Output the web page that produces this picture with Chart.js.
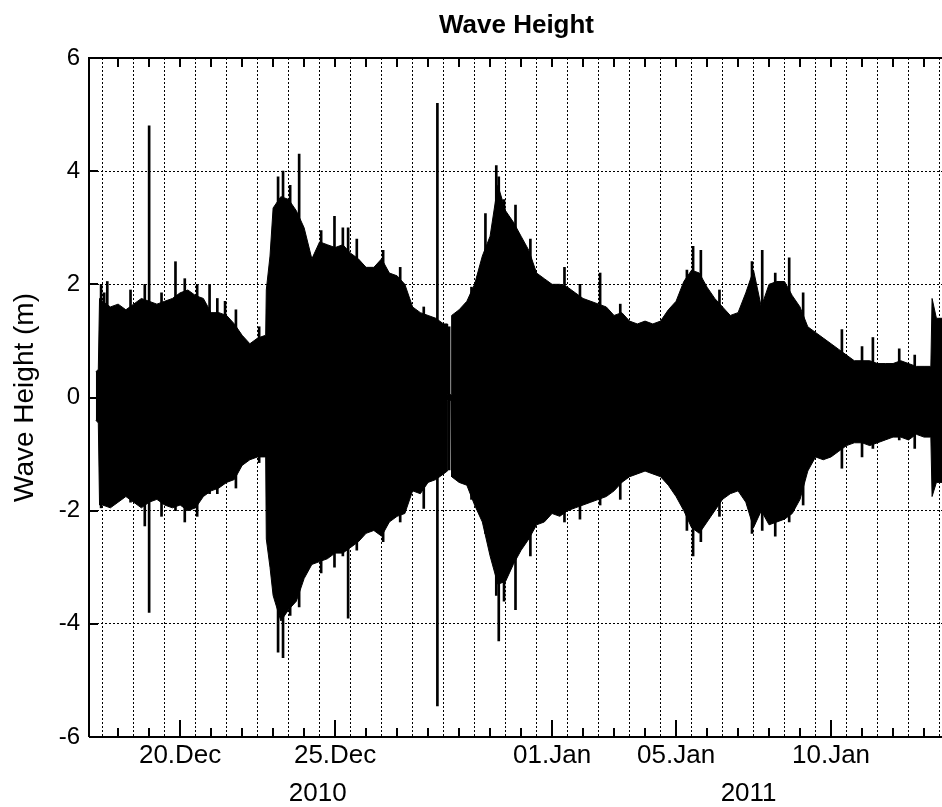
<!DOCTYPE html>
<html>
<head>
<meta charset="utf-8">
<title>Wave Height</title>
<script src="https://cdn.jsdelivr.net/npm/chart.js@4.4.1/dist/chart.umd.min.js"></script>
<style>
  body { margin: 0; background: #fff; }
  canvas { display: block; }
</style>
</head>
<body>
<canvas id="waveChart" width="942" height="807"></canvas>
<script>
// x values are days counted from 20 Dec 2010 00:00

// envelope of the record (upper / lower excursion, m)
var envDays = [-2.72, -2.64, -2.6, -2.5, -2.25, -2.0, -1.75, -1.5, -1.25, -1.0, -0.75, -0.5, -0.25,
    0, 0.25, 0.5, 0.75, 1.0, 1.25, 1.5, 1.75, 2.0, 2.25, 2.5, 2.76, 2.78, 2.9,
    3.0, 3.25, 3.5, 3.75, 4.0, 4.25, 4.5, 4.75, 5.0, 5.25, 5.5, 5.75,
    6.0, 6.25, 6.5, 6.75, 7.0, 7.25, 7.5, 7.75, 8.0, 8.25, 8.5, 8.62, 8.63, 8.74, 8.76,
    9.0, 9.25, 9.5, 9.75, 10.0, 10.25, 10.5, 10.75, 11.0, 11.25, 11.5, 11.75,
    12.0, 12.25, 12.5, 12.75, 13.0, 13.25, 13.5, 13.75, 14.0, 14.25, 14.5, 14.75,
    15.0, 15.25, 15.5, 15.75, 16.0, 16.25, 16.5, 16.75, 17.0, 17.25, 17.5, 17.75,
    18.0, 18.25, 18.5, 18.75, 19.0, 19.25, 19.5, 19.75, 20.0, 20.25, 20.5, 20.75,
    21.0, 21.25, 21.5, 21.75, 22.0, 22.25, 22.5, 22.75, 23.0, 23.25, 23.5, 23.75,
    24.0, 24.22, 24.26, 24.4, 24.6];
var envHigh = [0.45, 0.5, 1.75, 1.7, 1.6, 1.65, 1.55, 1.65, 1.75, 1.7, 1.65, 1.7, 1.75,
    1.85, 1.9, 1.8, 1.75, 1.5, 1.5, 1.45, 1.3, 1.1, 0.95, 1.05, 1.1, 1.9, 2.5,
    3.35, 3.55, 3.5, 3.3, 3.0, 2.45, 2.75, 2.7, 2.65, 2.7, 2.55, 2.45,
    2.3, 2.3, 2.45, 2.2, 2.15, 2.0, 1.6, 1.5, 1.45, 1.4, 1.3, 1.3, 0.05, 0.05, 1.45,
    1.55, 1.7, 2.0, 2.5, 2.85, 3.75, 3.3, 3.1, 2.85, 2.6, 2.2, 2.1,
    2.0, 2.0, 1.95, 1.85, 1.75, 1.7, 1.65, 1.6, 1.45, 1.5, 1.35, 1.3,
    1.35, 1.3, 1.35, 1.55, 1.7, 2.05, 2.25, 2.2, 1.95, 1.75, 1.6, 1.45,
    1.5, 1.85, 2.25, 1.6, 2.0, 2.05, 2.05, 1.8, 1.6, 1.25, 1.15, 1.05,
    0.95, 0.85, 0.75, 0.65, 0.65, 0.65, 0.6, 0.6, 0.6, 0.65, 0.6, 0.55,
    0.55, 0.55, 1.75, 1.4, 1.4];
var envLow = [-0.4, -0.45, -1.9, -1.9, -1.95, -1.85, -1.75, -1.85, -1.95, -1.85, -1.8, -1.9, -1.95,
    -1.9, -2.0, -1.95, -1.75, -1.65, -1.6, -1.5, -1.45, -1.2, -1.1, -1.05, -1.05, -2.5, -3.0,
    -3.5, -3.95, -3.75, -3.6, -3.2, -2.95, -2.9, -2.85, -2.75, -2.75, -2.65, -2.55,
    -2.4, -2.35, -2.45, -2.2, -2.1, -2.05, -1.65, -1.7, -1.5, -1.45, -1.35, -1.3, -0.05, -0.05, -1.4,
    -1.5, -1.55, -1.9, -2.2, -2.8, -3.3, -3.25, -2.95, -2.7, -2.5, -2.25, -2.2,
    -2.05, -2.1, -2.0, -1.95, -1.9, -1.85, -1.8, -1.75, -1.65, -1.5, -1.4, -1.35,
    -1.3, -1.35, -1.4, -1.55, -1.75, -2.0, -2.3, -2.4, -2.2, -2.0, -1.8, -1.7,
    -1.65, -1.85, -2.3, -2.0, -2.25, -2.2, -2.15, -2.05, -1.8, -1.3, -1.05, -1.1,
    -1.05, -0.95, -0.85, -0.8, -0.8, -0.85, -0.8, -0.75, -0.7, -0.7, -0.75, -0.65,
    -0.7, -0.7, -1.75, -1.5, -1.5];

// single large waves standing out of the envelope
var spikeDays = [-2.55, -2.45, -2.35, -1.6, -1.14, -1.0, -0.6, -0.15, 0.15, 0.55, 0.95, 1.2,
    1.45, 1.8, 2.55, 3.16, 3.32, 3.55, 3.84, 4.55, 4.98, 5.25, 5.42, 5.7,
    6.55, 7.1, 7.86, 8.3, 8.68, 9.4, 9.85, 10.2, 10.28, 10.45, 10.82, 11.3,
    12.4, 12.9, 13.55, 14.2, 16.35, 16.55, 16.8, 17.4, 18.45, 18.78, 19.2, 19.65,
    20.1, 21.35, 22.0, 22.35, 23.2, 23.7];
var spikeHigh = [2.0, 1.85, 2.05, 1.9, 2.0, 4.8, 1.85, 2.4, 2.1, 2.0, 2.0, 1.75,
    1.7, 1.55, 1.25, 3.9, 4.0, 3.75, 4.3, 2.95, 3.2, 3.0, 3.0, 2.8,
    2.6, 2.3, 1.6, 5.2, 1.25, 1.95, 3.25, 4.1, 3.9, 3.5, 3.4, 2.8,
    2.3, 2.0, 2.2, 1.65, 2.25, 2.67, 2.6, 1.9, 2.4, 2.6, 2.2, 2.47,
    1.85, 1.2, 0.9, 1.06, 0.86, 0.75];
var spikeLow = [-1.95, -1.9, -1.9, -1.85, -2.27, -3.8, -2.1, -2.0, -2.2, -2.1, -1.7, -1.7,
    -1.5, -1.6, -1.15, -4.5, -4.6, -3.85, -3.7, -3.1, -3.0, -2.8, -3.9, -2.7,
    -2.55, -2.2, -1.96, -5.45, -1.28, -1.8, -2.4, -3.5, -4.3, -3.6, -3.75, -2.8,
    -2.2, -2.15, -1.9, -1.8, -2.35, -2.8, -2.55, -2.1, -2.4, -2.35, -2.45, -2.2,
    -1.9, -1.25, -1.05, -0.9, -0.75, -0.9];

var tickDays = [0, 5, 12, 16, 21];
var tickLabels = ['20.Dec', '25.Dec', '01.Jan', '05.Jan', '10.Jan'];
var yearDays = [4.44, 18.34];
var yearLabels = ['2010', '2011'];

var dayMin = -2.94;
var dayMax = 24.58;

var upperPts = envDays.map(function(d, i) { return {x: d, y: envHigh[i]}; });
var lowerPts = envDays.map(function(d, i) { return {x: d, y: envLow[i]}; });
var spikePts = spikeDays.map(function(d, i) { return {x: d, y: [spikeLow[i], spikeHigh[i]]}; });

var gridDays = [];
for (var d = Math.ceil(dayMin); d <= Math.floor(dayMax); d++) gridDays.push(d);

var matlabAxes = {
    id: 'matlabAxes',
    afterDraw: function(chart) {
        var ctx = chart.ctx;
        var area = chart.chartArea;
        var xs = chart.scales.x;
        var ys = chart.scales.y;

        ctx.save();
        ctx.strokeStyle = '#000';
        ctx.lineWidth = 2;

        // box
        ctx.beginPath();
        ctx.moveTo(area.left, area.bottom);
        ctx.lineTo(area.left, area.top);
        ctx.lineTo(area.right, area.top);
        ctx.moveTo(area.left, area.bottom);
        ctx.lineTo(area.right, area.bottom);
        ctx.stroke();

        // ticks pointing inwards
        ctx.beginPath();
        gridDays.forEach(function(day) {
            var px = Math.round(xs.getPixelForValue(day));
            var len = tickDays.indexOf(day) >= 0 ? 17 : 9;
            ctx.moveTo(px, area.bottom);
            ctx.lineTo(px, area.bottom - len);
            ctx.moveTo(px, area.top);
            ctx.lineTo(px, area.top + 9);
        });
        for (var v = -6; v <= 6; v += 2) {
            var py = Math.round(ys.getPixelForValue(v));
            ctx.moveTo(area.left, py);
            ctx.lineTo(area.left + 9, py);
        }
        ctx.stroke();

        ctx.fillStyle = '#000';

        // title
        ctx.font = 'bold 26px "Liberation Sans", Arial, sans-serif';
        ctx.textAlign = 'center';
        ctx.textBaseline = 'alphabetic';
        ctx.fillText('Wave Height', (area.left + area.right) / 2 + 1, 33);

        // year line under the date ticks
        ctx.font = '26px "Liberation Sans", Arial, sans-serif';
        yearDays.forEach(function(day, i) {
            ctx.fillText(yearLabels[i], xs.getPixelForValue(day), 801);
        });

        // y axis title
        ctx.font = '28px "Liberation Sans", Arial, sans-serif';
        ctx.translate(33, (area.top + area.bottom) / 2);
        ctx.rotate(-Math.PI / 2);
        ctx.fillText('Wave Height (m)', 0, 0);
        ctx.restore();
    }
};

var ctx = document.getElementById('waveChart').getContext('2d');

var myChart = new Chart(ctx, {
    data: {
        datasets: [{
            type: 'line',
            data: upperPts,
            borderColor: '#000',
            borderWidth: 1,
            backgroundColor: '#000',
            pointRadius: 0,
            tension: 0,
            fill: '+1'
        }, {
            type: 'line',
            data: lowerPts,
            borderColor: '#000',
            borderWidth: 1,
            pointRadius: 0,
            tension: 0,
            fill: false
        }, {
            type: 'bar',
            data: spikePts,
            backgroundColor: '#000',
            borderWidth: 0,
            barThickness: 2
        }]
    },
    options: {
        responsive: false,
        animation: false,
        layout: { padding: { top: 58, right: 0, bottom: 0, left: 0 } },
        plugins: {
            legend: { display: false },
            tooltip: { enabled: false },
            title: { display: false }
        },
        scales: {
            x: {
                type: 'linear',
                min: dayMin,
                max: dayMax,
                offset: false,
                afterBuildTicks: function(scale) {
                    scale.ticks = gridDays.map(function(v) { return {value: v}; });
                },
                afterFit: function(scale) { scale.height = 70; },
                grid: { color: '#000', lineWidth: 1, drawTicks: false },
                border: { display: false, dash: [2, 2] },
                ticks: {
                    autoSkip: false,
                    maxRotation: 0,
                    padding: 3,
                    color: '#000',
                    font: { family: '"Liberation Sans", Arial, sans-serif', size: 26 },
                    callback: function(value) {
                        var i = tickDays.indexOf(value);
                        return i >= 0 ? tickLabels[i] : '';
                    }
                }
            },
            y: {
                type: 'linear',
                min: -6,
                max: 6,
                afterFit: function(scale) { scale.width = 89; },
                grid: { color: '#000', lineWidth: 1, drawTicks: false },
                border: { display: false, dash: [2, 2] },
                ticks: {
                    stepSize: 2,
                    padding: 9,
                    color: '#000',
                    font: { family: '"Liberation Sans", Arial, sans-serif', size: 24 }
                }
            }
        }
    },
    plugins: [matlabAxes]
});
</script>
</body>
</html>
